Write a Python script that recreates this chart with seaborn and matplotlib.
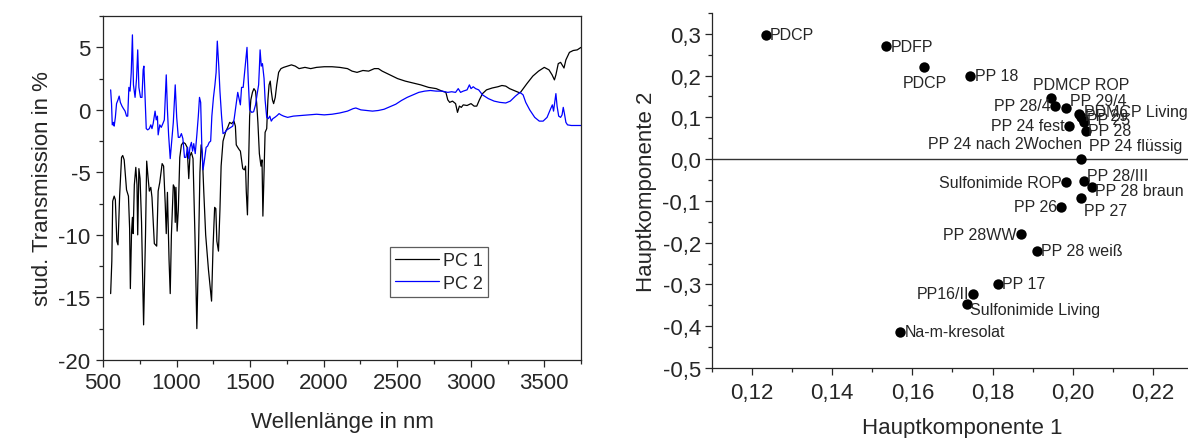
import numpy as np
import pandas as pd
import matplotlib
matplotlib.use("Agg")
import matplotlib.pyplot as plt
from matplotlib.ticker import MultipleLocator, FuncFormatter
import seaborn as sns

# ---------------- data: left panel (loadings spectra) ----------------
pc1_nm = [552, 560, 566, 576, 584, 594, 602, 613, 626, 634, 644, 660, 673, 681, 686, 694, 700, 705,
          713, 723, 731, 736, 744, 752, 762, 776, 789, 797, 807, 815, 825, 833, 849, 865, 875, 886,
          902, 912, 923, 930, 938, 949, 957, 965, 978, 986, 991, 996, 1004, 1012, 1022, 1033, 1046,
          1059, 1072, 1083, 1091, 1101, 1112, 1125, 1138, 1148, 1159, 1167, 1175, 1185, 1198, 1217,
          1238, 1248, 1259, 1267, 1274, 1285, 1295, 1303, 1316, 1335, 1348, 1361, 1374, 1390, 1400,
          1406, 1416, 1427, 1434, 1442, 1450, 1461, 1469, 1474, 1482, 1490, 1497, 1505, 1516, 1526,
          1537, 1545, 1553, 1563, 1574, 1581, 1587, 1595, 1602, 1613, 1621, 1629, 1637, 1644, 1652,
          1660, 1671, 1681, 1694, 1710, 1728, 1755, 1781, 1807, 1833, 1873, 1912, 1952, 2004, 2057,
          2109, 2162, 2193, 2227, 2267, 2306, 2345, 2372, 2398, 2450, 2503, 2555, 2608, 2660, 2713,
          2765, 2805, 2831, 2844, 2857, 2876, 2897, 2910, 2923, 2936, 2949, 2975, 3002, 3023, 3041,
          3059, 3080, 3107, 3146, 3185, 3212, 3238, 3264, 3304, 3335, 3382, 3422, 3461, 3500, 3532,
          3553, 3569, 3579, 3595, 3611, 3626, 3634, 3647, 3671, 3697, 3724, 3750]
pc1_val = [-14.7, -12.1, -7.3, -6.9, -7.2, -10.5, -10.8, -6.9, -3.8, -3.65, -4.0, -6.4, -6.9, -9.5,
           -14.3, -9.8, -8.6, -9.9, -6.0, -4.6, -6.0, -10.0, -4.7, -5.5, -9.0, -17.2, -10.0, -4.1,
           -5.5, -6.5, -6.2, -7.0, -10.7, -10.9, -6.5, -5.8, -4.3, -4.5, -7.5, -9.9, -6.6, -12.0,
           -14.7, -10.0, -6.0, -6.2, -9.0, -6.2, -9.7, -8.0, -3.8, -2.8, -2.6, -2.7, -3.0, -5.5,
           -3.7, -3.4, -3.9, -10.0, -17.5, -12.0, -5.0, -2.8, -3.5, -6.5, -10.0, -12.8, -15.3, -11.0,
           -7.8, -7.9, -10.5, -11.3, -8.0, -4.5, -2.5, -1.7, -1.4, -1.0, -1.1, -0.9, -1.3, -2.8,
           -3.0, -3.2, -3.3, -4.0, -4.7, -4.8, -4.5, -6.5, -8.4, -4.0, -0.5, 0.8, 1.4, 1.7, 1.5,
           0.5, -1.0, -3.5, -4.5, -4.0, -8.5, -5.0, -1.8, -1.5, 0.8, 2.0, 2.3, 1.5, 0.8, 0.5, 1.0,
           2.0, 3.0, 3.3, 3.4, 3.5, 3.6, 3.5, 3.3, 3.4, 3.3, 3.4, 3.45, 3.45, 3.4, 3.3, 3.1, 3.0,
           3.15, 3.1, 3.3, 3.3, 3.1, 2.8, 2.5, 2.3, 2.15, 2.0, 1.8, 1.7, 1.5, 1.4, 0.8, 0.6, 0.7,
           0.5, -0.2, 0.3, 0.2, 0.4, 0.35, 0.5, 0.3, 0.3, 0.8, 1.3, 1.6, 1.75, 1.85, 1.95, 1.9,
           1.7, 1.5, 1.35, 2.1, 2.7, 3.1, 3.4, 3.2, 2.8, 2.4, 2.8, 3.7, 3.8, 3.5, 3.35, 4.0, 4.6,
           4.75, 4.8, 5.0]

pc2_nm = [552, 558, 563, 571, 576, 584, 592, 602, 610, 618, 629, 639, 650, 660, 668, 676, 684, 692,
          700, 707, 718, 728, 736, 744, 755, 765, 773, 778, 786, 794, 804, 815, 825, 833, 841, 854,
          862, 870, 875, 886, 896, 907, 917, 925, 930, 938, 946, 957, 967, 978, 991, 1001, 1012,
          1022, 1033, 1043, 1054, 1064, 1075, 1083, 1091, 1101, 1109, 1117, 1127, 1138, 1148, 1156,
          1164, 1172, 1180, 1190, 1201, 1211, 1222, 1232, 1240, 1251, 1261, 1269, 1277, 1287, 1295,
          1306, 1316, 1329, 1343, 1356, 1369, 1382, 1392, 1406, 1416, 1427, 1434, 1442, 1453, 1463,
          1471, 1479, 1487, 1497, 1511, 1524, 1537, 1547, 1558, 1563, 1568, 1576, 1584, 1595, 1602,
          1613, 1624, 1634, 1644, 1655, 1668, 1684, 1697, 1710, 1728, 1755, 1794, 1847, 1899, 1952,
          2004, 2057, 2109, 2162, 2201, 2219, 2253, 2293, 2332, 2372, 2411, 2450, 2490, 2529, 2568,
          2608, 2647, 2687, 2726, 2765, 2805, 2844, 2870, 2897, 2915, 2931, 2949, 2975, 2991, 3002,
          3017, 3033, 3054, 3080, 3120, 3159, 3198, 3238, 3269, 3304, 3335, 3356, 3374, 3401, 3435,
          3466, 3492, 3519, 3540, 3555, 3563, 3571, 3579, 3587, 3598, 3611, 3621, 3629, 3637, 3647,
          3658, 3684, 3724, 3750]
pc2_val = [1.6, 0.5, -1.2, -1.0, -1.3, -0.6, 0.5, 0.8, 1.1, 0.6, 0.3, 0.1, -0.1, -0.5, -0.5, 1.8,
           1.5, 3.0, 6.0, 2.0, 1.0, 2.5, 4.8, 1.8, 1.0, 1.0, 3.2, 3.5, 1.0, -1.5, -1.6, -1.5, -1.2,
           -1.5, -1.1, -0.1, -0.8, -0.5, -2.0, -1.2, -1.4, -1.1, -0.8, 1.3, 2.8, 0.0, -2.0, -3.9,
           -2.5, -1.0, 2.0, -0.6, -2.2, -2.2, -1.9, -2.3, -3.8, -3.8, -3.0, -3.9, -3.0, -2.6, -3.3,
           -2.7, -3.5, -2.0, -0.5, 1.0, 0.6, -3.0, -4.8, -4.0, -3.0, -2.9, -2.6, -2.5, -0.5, 1.0,
           2.0, 3.0, 5.5, 3.5, 1.5, -0.5, -1.9, -1.8, -1.6, -1.5, -1.4, -1.3, -0.7, 0.5, 1.4, 0.8,
           0.4, 1.8, 1.8, 3.0, 4.0, 5.0, 2.5, 0.0, -0.2, -0.15, 0.4, 1.2, 2.0, 3.3, 4.8, 3.5, 3.7,
           2.5, 0.8, -0.6, -0.7, -0.5, -0.9, -0.7, -0.6, -0.45, -0.3, -0.4, -0.5, -0.6, -0.5, -0.45,
           -0.4, -0.35, -0.4, -0.35, -0.25, -0.1, 0.1, 0.15, 0.0, -0.05, -0.1, -0.05, 0.05, 0.25,
           0.45, 0.75, 1.0, 1.2, 1.4, 1.5, 1.55, 1.5, 1.5, 1.4, 1.45, 1.4, 1.7, 1.4, 1.5, 1.6, 2.0,
           1.7, 1.85, 1.7, 1.6, 1.2, 0.9, 0.7, 0.6, 0.55, 0.7, 1.1, 1.4, 1.2, 0.6, 0.0, -0.6, -0.9,
           -0.9, -0.6, 0.0, 0.4, -0.1, 0.6, 1.3, 0.3, -0.5, -0.6, -0.4, 0.2, -0.3, -1.0, -1.2,
           -1.25, -1.25, -1.25]

series_names = ["PC 1", "PC 2"]

# ---------------- data: right panel (score plot) ----------------
labels = ["PDCP", "PDFP", "PDCP", "PP 18", "PDMCP ROP", "PP 28/4", "PP 29/4", "PDMCP Living",
          "PP 29", "PP 25", "PP 28", "PP 24 fest", "PP 24 flüssig", "PP 24 nach 2Wochen",
          "Sulfonimide ROP", "PP 28/III", "PP 28 braun", "PP 27", "PP 26", "PP 28WW",
          "PP 28 weiß", "PP 17", "PP16/II", "Sulfonimide Living", "Na-m-kresolat"]
pc1_score = [0.1235, 0.1535, 0.1630, 0.1745, 0.1946, 0.1955, 0.1983, 0.2015, 0.2021, 0.2026,
             0.2028, 0.1990, 0.2033, 0.2020, 0.1983, 0.2028, 0.2048, 0.2022, 0.1972, 0.1870,
             0.1910, 0.1813, 0.1752, 0.1737, 0.1570]
pc2_score = [0.297, 0.270, 0.220, 0.200, 0.146, 0.128, 0.123, 0.107, 0.100, 0.095,
             0.089, 0.080, 0.066, 0.000, -0.055, -0.053, -0.066, -0.093, -0.114, -0.180,
             -0.220, -0.300, -0.322, -0.347, -0.413]

# label placement (offset in points, horizontal alignment)
label_offsets = [(3, 0, "left"), (3, 0, "left"), (0, -11, "center"), (3, 0, "left"),
                 (22, 10, "center"), (-3, 0, "right"), (3, 5, "left"), (4, 2, "left"),
                 (3, 1, "left"), (3, 0, "left"), (3, -6, "left"), (-3, 0, "right"),
                 (2, -10, "left"), (1, 11, "right"), (-3, 0, "right"), (2, 4, "left"),
                 (2, -3, "left"), (2, -9, "left"), (-3, 0, "right"), (-3, 0, "right"),
                 (3, 0, "left"), (3, 1, "left"), (-3, 0, "right"), (2, -4, "left"),
                 (3, 0, "left")]

# ---------------- style ----------------
sns.set_style("ticks")
plt.rcParams["font.family"] = ["Liberation Sans", "DejaVu Sans"]
plt.rcParams["axes.unicode_minus"] = False
plt.rcParams["axes.linewidth"] = 0.9
plt.rcParams["xtick.major.width"] = 0.9
plt.rcParams["ytick.major.width"] = 0.9
plt.rcParams["xtick.minor.width"] = 0.9
plt.rcParams["ytick.minor.width"] = 0.9
plt.rcParams["xtick.direction"] = "out"
plt.rcParams["ytick.direction"] = "out"

fig = plt.figure(figsize=(11.88, 4.39), dpi=100)

# ---------------- left panel ----------------
ax1 = fig.add_axes([0.0867, 0.178, 0.4024, 0.783])
df_spec = pd.concat([
    pd.DataFrame({"nm": pc1_nm, "val": pc1_val, "series": series_names[0]}),
    pd.DataFrame({"nm": pc2_nm, "val": pc2_val, "series": series_names[1]}),
])
sns.lineplot(data=df_spec, x="nm", y="val", hue="series", estimator=None, sort=False,
             palette={"PC 1": "black", "PC 2": "#0000FF"}, linewidth=0.9, ax=ax1)
ax1.set_xlim(500, 3750)
ax1.set_ylim(-20, 7.5)
ax1.xaxis.set_major_locator(MultipleLocator(500))
ax1.xaxis.set_minor_locator(MultipleLocator(250))
ax1.yaxis.set_major_locator(MultipleLocator(5))
ax1.yaxis.set_minor_locator(MultipleLocator(2.5))
ax1.tick_params(which="major", length=5, labelsize=16, pad=4)
ax1.tick_params(which="minor", length=3)
ax1.set_xlabel("Wellenlänge in nm", fontsize=16, labelpad=13)
ax1.set_ylabel("stud. Transmission in %", fontsize=16, labelpad=4)
leg = ax1.legend(loc="lower left", bbox_to_anchor=(0.60, 0.183), fontsize=13,
                 frameon=True, fancybox=False, handlelength=2.4, handletextpad=0.25,
                 borderpad=0.3, labelspacing=0.3, borderaxespad=0)
leg.get_frame().set_edgecolor("#333333")
leg.get_frame().set_linewidth(0.9)
for h in leg.get_lines():
    h.set_linewidth(0.9)

# ---------------- right panel ----------------
ax2 = fig.add_axes([0.5993, 0.1595, 0.4217, 0.809])
df_sc = pd.DataFrame({"pc1": pc1_score, "pc2": pc2_score, "label": labels})
sns.scatterplot(data=df_sc, x="pc1", y="pc2", color="black", s=56, edgecolor="black",
                linewidth=0, ax=ax2, zorder=3)
ax2.axhline(0, color="#333333", linewidth=1.0, zorder=1)
for lab, x, y, (dx, dy, ha) in zip(labels, pc1_score, pc2_score, label_offsets):
    ax2.annotate(lab, (x, y), xytext=(dx, dy), textcoords="offset points",
                 ha=ha, va="center", fontsize=11.5)
ax2.set_xlim(0.11, 0.235)
ax2.set_ylim(-0.5, 0.35)
ax2.xaxis.set_major_locator(MultipleLocator(0.02))
ax2.xaxis.set_minor_locator(MultipleLocator(0.01))
ax2.yaxis.set_major_locator(MultipleLocator(0.1))
ax2.yaxis.set_minor_locator(MultipleLocator(0.05))
ax2.xaxis.set_major_formatter(FuncFormatter(lambda v, p: f"{v:.2f}".replace(".", ",")))
ax2.yaxis.set_major_formatter(FuncFormatter(lambda v, p: f"{v:.1f}".replace(".", ",").replace("-0,0", "0,0")))
ax2.tick_params(which="major", length=5, labelsize=16, pad=3)
ax2.tick_params(axis="x", which="major", pad=5)
ax2.tick_params(which="minor", length=3)
ax2.spines["top"].set_visible(False)
ax2.spines["right"].set_visible(False)
ax2.set_xlabel("Hauptkomponente 1", fontsize=16, labelpad=10)
ax2.set_ylabel("Hauptkomponente 2", fontsize=16, labelpad=4)

fig.savefig("out.png", dpi=100)
